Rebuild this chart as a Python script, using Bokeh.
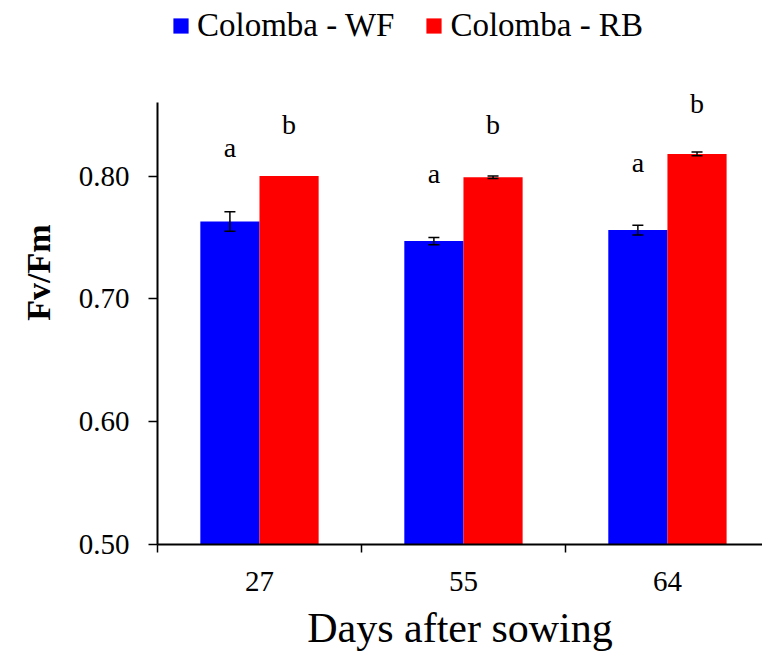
import math
from bokeh.plotting import figure
from bokeh.models import (ColumnDataSource, Range1d, FixedTicker, Whisker, TeeHead,
                          Legend, LegendItem)
from bokeh.core.properties import value
from bokeh.embed import file_html
from bokeh.resources import INLINE

days = ["27", "55", "64"]
wf_mean = [0.763, 0.747, 0.756]
wf_err = [0.008, 0.003, 0.004]
rb_mean = [0.800, 0.799, 0.818]
rb_err = [0.0, 0.001, 0.0015]
wf_letters = ["a", "a", "a"]
rb_letters = ["b", "b", "b"]
wf_letter_y = [0.823, 0.802, 0.811]
rb_letter_y = [0.842, 0.842, 0.859]

FONT = "Liberation Serif"
centers = [i + 0.5 for i in range(len(days))]
off = 0.145
bw = 0.29

wf_x = [c - off for c in centers]
rb_x = [c + off for c in centers]


def err_bounds(means, errs):
    lo = [m - e if e > 0 else math.nan for m, e in zip(means, errs)]
    hi = [m + e if e > 0 else math.nan for m, e in zip(means, errs)]
    return lo, hi


wf_lo, wf_hi = err_bounds(wf_mean, wf_err)
rb_lo, rb_hi = err_bounds(rb_mean, rb_err)

src_wf = ColumnDataSource(dict(x=wf_x, top=wf_mean, lo=wf_lo, hi=wf_hi,
                               lab=wf_letters, ly=wf_letter_y))
src_rb = ColumnDataSource(dict(x=rb_x, top=rb_mean, lo=rb_lo, hi=rb_hi,
                               lab=rb_letters, ly=rb_letter_y))

p = figure(width=762, height=653, output_backend="svg", toolbar_location=None,
           x_range=Range1d(0, 2.966), y_range=Range1d(0.5, 0.9429),
           min_border_left=157, min_border_top=0, min_border_right=0,
           min_border_bottom=108)
p.outline_line_color = None
p.xgrid.visible = False
p.ygrid.visible = False
p.background_fill_color = "white"

r_wf = p.vbar(x="x", top="top", bottom=0.5, width=bw, source=src_wf,
              fill_color="#0000FF", line_color=None)
r_rb = p.vbar(x="x", top="top", bottom=0.5, width=bw, source=src_rb,
              fill_color="#FF0000", line_color=None)

for src in (src_wf, src_rb):
    w = Whisker(base="x", lower="lo", upper="hi", source=src, level="overlay",
                line_color="black", line_width=1.5,
                upper_head=TeeHead(size=11, line_color="black", line_width=1.5),
                lower_head=TeeHead(size=11, line_color="black", line_width=1.5))
    p.add_layout(w)
    p.text(x="x", y="ly", text="lab", source=src, text_font=value(FONT),
           text_font_size="28px", text_align="center", text_baseline="middle",
           text_color="black")

# x axis
p.xaxis.ticker = FixedTicker(ticks=centers, minor_ticks=[0, 1, 2, 3])
p.xaxis.major_label_overrides = {c: d for c, d in zip(centers, days)}
p.xaxis.major_tick_out = 0
p.xaxis.major_tick_in = 0
p.xaxis.minor_tick_out = 8
p.xaxis.minor_tick_in = 0
p.xaxis.minor_tick_line_width = 1.5
p.xaxis.minor_tick_line_color = "black"
p.xaxis.axis_line_width = 2
p.xaxis.axis_line_color = "black"
p.xaxis.major_label_standoff = 19
p.xaxis.major_label_text_font = FONT
p.xaxis.major_label_text_font_size = "29px"
p.xaxis.major_label_text_color = "black"
p.xaxis.axis_label = "Days after sowing"
p.xaxis.axis_label_text_font = FONT
p.xaxis.axis_label_text_font_size = "42px"
p.xaxis.axis_label_text_font_style = "normal"
p.xaxis.axis_label_text_color = "black"
p.xaxis.axis_label_standoff = 11

# y axis
p.yaxis.bounds = (0.5, 0.86)
p.yaxis.ticker = FixedTicker(ticks=[0.5, 0.6, 0.7, 0.8], minor_ticks=[])
p.yaxis.major_label_overrides = {0.5: "0.50", 0.6: "0.60", 0.7: "0.70", 0.8: "0.80"}
p.yaxis.major_tick_out = 9
p.yaxis.major_tick_in = 0
p.yaxis.major_tick_line_width = 1.5
p.yaxis.major_tick_line_color = "black"
p.yaxis.axis_line_width = 2
p.yaxis.axis_line_color = "black"
p.yaxis.major_label_standoff = 19
p.yaxis.major_label_text_font = FONT
p.yaxis.major_label_text_font_size = "29px"
p.yaxis.major_label_text_color = "black"
p.yaxis.axis_label = "Fv/Fm"
p.yaxis.axis_label_text_font = FONT
p.yaxis.axis_label_text_font_size = "34px"
p.yaxis.axis_label_text_font_style = "bold"
p.yaxis.axis_label_text_color = "black"
p.yaxis.axis_label_standoff = 19

legend = Legend(items=[LegendItem(label="Colomba - WF", renderers=[r_wf]),
                       LegendItem(label="Colomba - RB", renderers=[r_rb])],
                orientation="horizontal", location=(14, 500),
                label_text_font=FONT, label_text_font_size="33px",
                label_text_color="black", glyph_width=19, glyph_height=19,
                label_standoff=7, spacing=30, padding=0, margin=0,
                border_line_color=None, background_fill_alpha=0)
p.add_layout(legend, "center")

open("out.html", "w").write(file_html(p, INLINE))
